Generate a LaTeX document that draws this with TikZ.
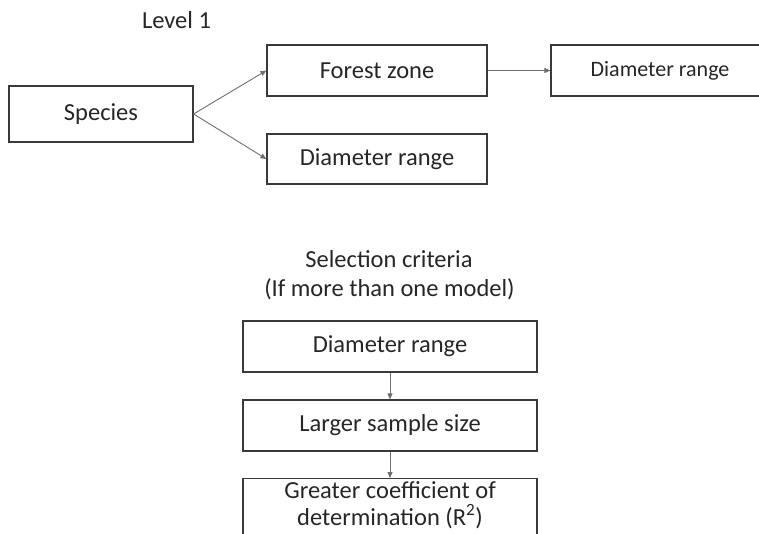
\documentclass[tikz,border=0pt]{standalone}
\usepackage{fontspec}
\setmainfont{Carlito}
\usetikzlibrary{arrows.meta}
\definecolor{txt}{HTML}{262626}
\definecolor{edge}{HTML}{3A3A3A}
\definecolor{arr}{HTML}{6E6E6E}
\begin{document}
\begin{tikzpicture}[x=1pt,y=-1pt,
  box/.style={draw=edge,line width=1.2pt,rectangle,inner sep=0pt,text=txt,font=\fontsize{24.5}{28}\selectfont,align=center},
  lbl/.style={text=txt,font=\fontsize{24.5}{28}\selectfont,inner sep=0pt,anchor=base},
  conn/.style={draw=arr,line width=0.9pt,-{Triangle[length=6pt,width=5pt]}}]
\useasboundingbox (0,0) rectangle (759,533);
\clip (0,0) rectangle (759,533);
\node[lbl] (lvl) at (176.5,28) {Level 1};
\node[box,minimum width=184pt,minimum height=56pt] (species) at (101,114) {Species};
\node[box,minimum width=220pt,minimum height=51pt] (forest) at (377,70.5) {Forest zone};
\node[box,minimum width=220pt,minimum height=50pt] (diam1) at (377,159) {Diameter range};
\node[box,minimum width=218pt,minimum height=51pt,font=\fontsize{22}{26}\selectfont] (diam2) at (660,70.5) {Diameter range};
\node[lbl] (sel1) at (389,267) {Selection criteria};
\node[lbl] (sel2) at (389.5,296) {(If more than one model)};
\node[box,minimum width=294pt,minimum height=51pt] (c1) at (390,346.5) {Diameter range};
\node[box,minimum width=294pt,minimum height=51pt] (c2) at (390,425.5) {Larger sample size};
\node[box,minimum width=294pt,minimum height=62pt,anchor=north] (c3) at (390,478) {};
\node[lbl] (c3a) at (390,498) {Greater coefficient of};
\node[lbl] (c3b) at (390,525) {determination (R\textsuperscript{2})};
\draw[conn] (species.east) -- (forest.west);
\draw[conn] (species.east) -- (diam1.west);
\draw[conn] (forest.east) -- (diam2.west);
\draw[conn] (c1.south) -- (c2.north);
\draw[conn] (c2.south) -- (c3.north);
\end{tikzpicture}
\end{document}
